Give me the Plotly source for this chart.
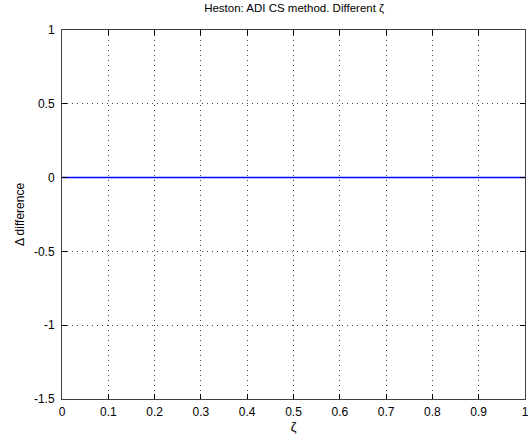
import plotly.graph_objects as go

zeta = [0.0, 0.1, 0.2, 0.3, 0.4, 0.5, 0.6, 0.7, 0.8, 0.9, 1.0]
delta_diff = [0.0, 0.0, 0.0, 0.0, 0.0, 0.0, 0.0, 0.0, 0.0, 0.0, 0.0]

x_ticks = [0, 0.1, 0.2, 0.3, 0.4, 0.5, 0.6, 0.7, 0.8, 0.9, 1]
x_labels = ["0", "0.1", "0.2", "0.3", "0.4", "0.5", "0.6", "0.7", "0.8", "0.9", "1"]
y_ticks = [-1.5, -1, -0.5, 0, 0.5, 1]
y_labels = ["-1.5", "-1", "-0.5", "0", "0.5", "1"]

FONT = "Liberation Sans, Arial"

fig = go.Figure()
fig.add_trace(go.Scatter(x=zeta, y=delta_diff, mode="lines",
                         line=dict(color="#0000ff", width=1.5), showlegend=False))

axis_common = dict(
    showline=True, linecolor="#404040", linewidth=1, mirror="allticks",
    ticks="inside", ticklen=5, tickcolor="#000000", tickwidth=1,
    showgrid=True, gridcolor="#444444", gridwidth=1, griddash="1px,4px",
    zeroline=False, ticklabeloverflow="allow",
    tickfont=dict(family=FONT, size=12, color="#000000"),
)

fig.update_layout(
    width=530, height=443,
    margin=dict(l=62, r=1, t=30, b=44),
    paper_bgcolor="white", plot_bgcolor="white",
    title=dict(text="Heston: ADI CS method. Different ζ", x=0.555, xanchor="center",
               y=0.99, yanchor="top",
               font=dict(family=FONT, size=11.5, color="#000000")),
    xaxis=dict(range=[0, 1], tickvals=x_ticks, ticktext=x_labels, ticklabelstandoff=2,
               title=dict(text="ζ", standoff=2,
                          font=dict(family=FONT, size=13, color="#000000")),
               **axis_common),
    yaxis=dict(range=[-1.5, 1], tickvals=y_ticks, ticktext=y_labels, ticklabelstandoff=4,
               title=dict(text="Δ difference", standoff=6,
                          font=dict(family=FONT, size=12, color="#000000")),
               **axis_common),
)

fig.write_html("out.html")
